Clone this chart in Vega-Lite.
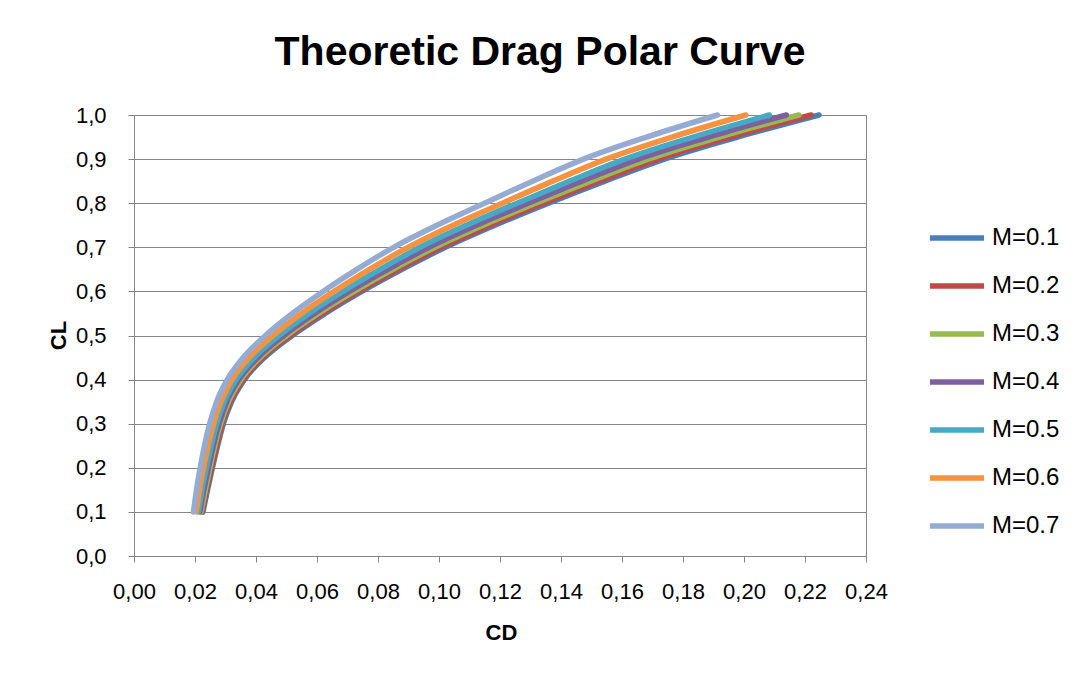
{
  "$schema": "https://vega.github.io/schema/vega-lite/v6.json",
  "width": 732,
  "height": 441,
  "autosize": {"type": "none"},
  "padding": {"left": 134, "top": 115, "right": 218, "bottom": 125},
  "background": "white",
  "title": {
    "text": "Theoretic Drag Polar Curve",
    "font": "Liberation Sans",
    "fontSize": 41,
    "fontWeight": "bold",
    "color": "#000000",
    "anchor": "middle",
    "frame": "group",
    "dx": 40,
    "offset": 30
  },
  "config": {
    "view": {"stroke": "#868686", "strokeWidth": 1},
    "font": "Liberation Sans"
  },
  "datasets": {
    "polar": [
      {"M": "M=0.1", "CL": 0.10, "CD": 0.0226},
      {"M": "M=0.1", "CL": 0.15, "CD": 0.0241},
      {"M": "M=0.1", "CL": 0.20, "CD": 0.0257},
      {"M": "M=0.1", "CL": 0.25, "CD": 0.0274},
      {"M": "M=0.1", "CL": 0.30, "CD": 0.0293},
      {"M": "M=0.1", "CL": 0.35, "CD": 0.0320},
      {"M": "M=0.1", "CL": 0.40, "CD": 0.0362},
      {"M": "M=0.1", "CL": 0.45, "CD": 0.0428},
      {"M": "M=0.1", "CL": 0.50, "CD": 0.0519},
      {"M": "M=0.1", "CL": 0.55, "CD": 0.0627},
      {"M": "M=0.1", "CL": 0.60, "CD": 0.0747},
      {"M": "M=0.1", "CL": 0.65, "CD": 0.0879},
      {"M": "M=0.1", "CL": 0.70, "CD": 0.1021},
      {"M": "M=0.1", "CL": 0.75, "CD": 0.1183},
      {"M": "M=0.1", "CL": 0.80, "CD": 0.1359},
      {"M": "M=0.1", "CL": 0.85, "CD": 0.1544},
      {"M": "M=0.1", "CL": 0.90, "CD": 0.1739},
      {"M": "M=0.1", "CL": 0.95, "CD": 0.1979},
      {"M": "M=0.1", "CL": 1.00, "CD": 0.2246},

      {"M": "M=0.2", "CL": 0.10, "CD": 0.0224},
      {"M": "M=0.2", "CL": 0.15, "CD": 0.0238},
      {"M": "M=0.2", "CL": 0.20, "CD": 0.0254},
      {"M": "M=0.2", "CL": 0.25, "CD": 0.0271},
      {"M": "M=0.2", "CL": 0.30, "CD": 0.0289},
      {"M": "M=0.2", "CL": 0.35, "CD": 0.0316},
      {"M": "M=0.2", "CL": 0.40, "CD": 0.0358},
      {"M": "M=0.2", "CL": 0.45, "CD": 0.0422},
      {"M": "M=0.2", "CL": 0.50, "CD": 0.0512},
      {"M": "M=0.2", "CL": 0.55, "CD": 0.0618},
      {"M": "M=0.2", "CL": 0.60, "CD": 0.0737},
      {"M": "M=0.2", "CL": 0.65, "CD": 0.0867},
      {"M": "M=0.2", "CL": 0.70, "CD": 0.1007},
      {"M": "M=0.2", "CL": 0.75, "CD": 0.1168},
      {"M": "M=0.2", "CL": 0.80, "CD": 0.1342},
      {"M": "M=0.2", "CL": 0.85, "CD": 0.1525},
      {"M": "M=0.2", "CL": 0.90, "CD": 0.1718},
      {"M": "M=0.2", "CL": 0.95, "CD": 0.1955},
      {"M": "M=0.2", "CL": 1.00, "CD": 0.2220},

      {"M": "M=0.3", "CL": 0.10, "CD": 0.0220},
      {"M": "M=0.3", "CL": 0.15, "CD": 0.0234},
      {"M": "M=0.3", "CL": 0.20, "CD": 0.0249},
      {"M": "M=0.3", "CL": 0.25, "CD": 0.0265},
      {"M": "M=0.3", "CL": 0.30, "CD": 0.0284},
      {"M": "M=0.3", "CL": 0.35, "CD": 0.0310},
      {"M": "M=0.3", "CL": 0.40, "CD": 0.0351},
      {"M": "M=0.3", "CL": 0.45, "CD": 0.0414},
      {"M": "M=0.3", "CL": 0.50, "CD": 0.0501},
      {"M": "M=0.3", "CL": 0.55, "CD": 0.0605},
      {"M": "M=0.3", "CL": 0.60, "CD": 0.0722},
      {"M": "M=0.3", "CL": 0.65, "CD": 0.0849},
      {"M": "M=0.3", "CL": 0.70, "CD": 0.0987},
      {"M": "M=0.3", "CL": 0.75, "CD": 0.1145},
      {"M": "M=0.3", "CL": 0.80, "CD": 0.1317},
      {"M": "M=0.3", "CL": 0.85, "CD": 0.1497},
      {"M": "M=0.3", "CL": 0.90, "CD": 0.1686},
      {"M": "M=0.3", "CL": 0.95, "CD": 0.1919},
      {"M": "M=0.3", "CL": 1.00, "CD": 0.2180},

      {"M": "M=0.4", "CL": 0.10, "CD": 0.0216},
      {"M": "M=0.4", "CL": 0.15, "CD": 0.0229},
      {"M": "M=0.4", "CL": 0.20, "CD": 0.0244},
      {"M": "M=0.4", "CL": 0.25, "CD": 0.0260},
      {"M": "M=0.4", "CL": 0.30, "CD": 0.0279},
      {"M": "M=0.4", "CL": 0.35, "CD": 0.0304},
      {"M": "M=0.4", "CL": 0.40, "CD": 0.0344},
      {"M": "M=0.4", "CL": 0.45, "CD": 0.0406},
      {"M": "M=0.4", "CL": 0.50, "CD": 0.0491},
      {"M": "M=0.4", "CL": 0.55, "CD": 0.0592},
      {"M": "M=0.4", "CL": 0.60, "CD": 0.0706},
      {"M": "M=0.4", "CL": 0.65, "CD": 0.0832},
      {"M": "M=0.4", "CL": 0.70, "CD": 0.0967},
      {"M": "M=0.4", "CL": 0.75, "CD": 0.1122},
      {"M": "M=0.4", "CL": 0.80, "CD": 0.1292},
      {"M": "M=0.4", "CL": 0.85, "CD": 0.1468},
      {"M": "M=0.4", "CL": 0.90, "CD": 0.1654},
      {"M": "M=0.4", "CL": 0.95, "CD": 0.1884},
      {"M": "M=0.4", "CL": 1.00, "CD": 0.2139},

      {"M": "M=0.5", "CL": 0.10, "CD": 0.0211},
      {"M": "M=0.5", "CL": 0.15, "CD": 0.0223},
      {"M": "M=0.5", "CL": 0.20, "CD": 0.0237},
      {"M": "M=0.5", "CL": 0.25, "CD": 0.0253},
      {"M": "M=0.5", "CL": 0.30, "CD": 0.0271},
      {"M": "M=0.5", "CL": 0.35, "CD": 0.0296},
      {"M": "M=0.5", "CL": 0.40, "CD": 0.0335},
      {"M": "M=0.5", "CL": 0.45, "CD": 0.0394},
      {"M": "M=0.5", "CL": 0.50, "CD": 0.0476},
      {"M": "M=0.5", "CL": 0.55, "CD": 0.0574},
      {"M": "M=0.5", "CL": 0.60, "CD": 0.0685},
      {"M": "M=0.5", "CL": 0.65, "CD": 0.0807},
      {"M": "M=0.5", "CL": 0.70, "CD": 0.0938},
      {"M": "M=0.5", "CL": 0.75, "CD": 0.1090},
      {"M": "M=0.5", "CL": 0.80, "CD": 0.1256},
      {"M": "M=0.5", "CL": 0.85, "CD": 0.1428},
      {"M": "M=0.5", "CL": 0.90, "CD": 0.1609},
      {"M": "M=0.5", "CL": 0.95, "CD": 0.1833},
      {"M": "M=0.5", "CL": 1.00, "CD": 0.2083},

      {"M": "M=0.6", "CL": 0.10, "CD": 0.0204},
      {"M": "M=0.6", "CL": 0.15, "CD": 0.0215},
      {"M": "M=0.6", "CL": 0.20, "CD": 0.0228},
      {"M": "M=0.6", "CL": 0.25, "CD": 0.0243},
      {"M": "M=0.6", "CL": 0.30, "CD": 0.0261},
      {"M": "M=0.6", "CL": 0.35, "CD": 0.0285},
      {"M": "M=0.6", "CL": 0.40, "CD": 0.0322},
      {"M": "M=0.6", "CL": 0.45, "CD": 0.0378},
      {"M": "M=0.6", "CL": 0.50, "CD": 0.0456},
      {"M": "M=0.6", "CL": 0.55, "CD": 0.0549},
      {"M": "M=0.6", "CL": 0.60, "CD": 0.0656},
      {"M": "M=0.6", "CL": 0.65, "CD": 0.0772},
      {"M": "M=0.6", "CL": 0.70, "CD": 0.0899},
      {"M": "M=0.6", "CL": 0.75, "CD": 0.1046},
      {"M": "M=0.6", "CL": 0.80, "CD": 0.1208},
      {"M": "M=0.6", "CL": 0.85, "CD": 0.1373},
      {"M": "M=0.6", "CL": 0.90, "CD": 0.1548},
      {"M": "M=0.6", "CL": 0.95, "CD": 0.1764},
      {"M": "M=0.6", "CL": 1.00, "CD": 0.2006},

      {"M": "M=0.7", "CL": 0.10, "CD": 0.0195},
      {"M": "M=0.7", "CL": 0.15, "CD": 0.0205},
      {"M": "M=0.7", "CL": 0.20, "CD": 0.0217},
      {"M": "M=0.7", "CL": 0.25, "CD": 0.0231},
      {"M": "M=0.7", "CL": 0.30, "CD": 0.0248},
      {"M": "M=0.7", "CL": 0.35, "CD": 0.0271},
      {"M": "M=0.7", "CL": 0.40, "CD": 0.0306},
      {"M": "M=0.7", "CL": 0.45, "CD": 0.0358},
      {"M": "M=0.7", "CL": 0.50, "CD": 0.0431},
      {"M": "M=0.7", "CL": 0.55, "CD": 0.0519},
      {"M": "M=0.7", "CL": 0.60, "CD": 0.0620},
      {"M": "M=0.7", "CL": 0.65, "CD": 0.0731},
      {"M": "M=0.7", "CL": 0.70, "CD": 0.0851},
      {"M": "M=0.7", "CL": 0.75, "CD": 0.0993},
      {"M": "M=0.7", "CL": 0.80, "CD": 0.1149},
      {"M": "M=0.7", "CL": 0.85, "CD": 0.1307},
      {"M": "M=0.7", "CL": 0.90, "CD": 0.1474},
      {"M": "M=0.7", "CL": 0.95, "CD": 0.1681},
      {"M": "M=0.7", "CL": 1.00, "CD": 0.1913}
    ]
  },
  "data": {"name": "polar"},
  "mark": {
    "type": "line",
    "interpolate": "monotone",
    "strokeWidth": 5.5,
    "strokeCap": "round",
    "strokeJoin": "round"
  },
  "encoding": {
    "x": {
      "field": "CD",
      "type": "quantitative",
      "scale": {"domain": [0, 0.24], "nice": false, "zero": false},
      "axis": {
        "title": "CD",
        "titleFontSize": 22,
        "titleFontWeight": "bold",
        "titleColor": "#000000",
        "titleX": 367,
        "titleY": 76,
        "titleBaseline": "middle",
        "values": [0, 0.02, 0.04, 0.06, 0.08, 0.1, 0.12, 0.14, 0.16, 0.18, 0.2, 0.22, 0.24],
        "labelExpr": "replace(format(datum.value, '.2f'), '.', ',')",
        "labelFontSize": 22,
        "labelColor": "#000000",
        "labelPadding": 19,
        "labelFlush": false,
        "labelOverlap": false,
        "grid": false,
        "domainColor": "#868686",
        "tickColor": "#868686",
        "tickSize": 6
      }
    },
    "y": {
      "field": "CL",
      "type": "quantitative",
      "scale": {"domain": [0, 1], "nice": false},
      "axis": {
        "title": "CL",
        "titleFontSize": 22,
        "titleFontWeight": "bold",
        "titleColor": "#000000",
        "titleX": -76,
        "titleY": 220,
        "titleBaseline": "middle",
        "values": [0, 0.1, 0.2, 0.3, 0.4, 0.5, 0.6, 0.7, 0.8, 0.9, 1.0],
        "labelExpr": "replace(format(datum.value, '.1f'), '.', ',')",
        "labelFontSize": 22,
        "labelColor": "#000000",
        "labelPadding": 22,
        "labelFlush": false,
        "labelOverlap": false,
        "grid": true,
        "gridColor": "#868686",
        "gridWidth": 1.2,
        "domainColor": "#868686",
        "tickColor": "#868686",
        "tickSize": 6
      }
    },
    "color": {
      "field": "M",
      "type": "nominal",
      "scale": {
        "domain": ["M=0.1", "M=0.2", "M=0.3", "M=0.4", "M=0.5", "M=0.6", "M=0.7"],
        "range": ["#4A7EBB", "#BE4B48", "#98B954", "#7D60A0", "#46AAC5", "#F69240", "#94ABD3"]
      },
      "legend": {
        "title": null,
        "orient": "none",
        "legendX": 793,
        "legendY": 99,
        "padding": 0,
        "symbolType": "stroke",
        "symbolSize": 2916,
        "symbolStrokeWidth": 5.5,
        "clipHeight": 48,
        "rowPadding": 0,
        "labelFontSize": 24,
        "labelColor": "#000000",
        "labelOffset": 5,
        "labelLimit": 200
      }
    }
  }
}
